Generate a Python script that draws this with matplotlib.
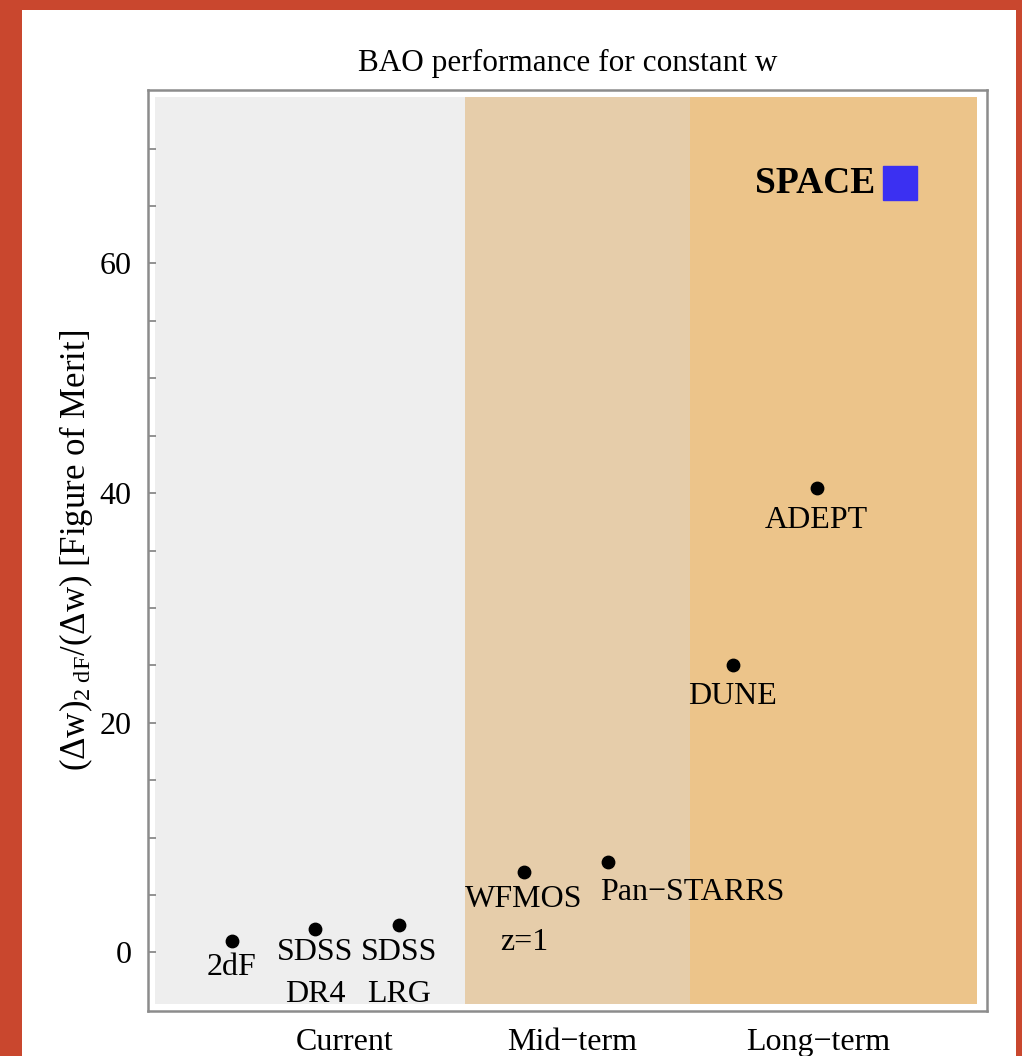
import matplotlib.pyplot as plt
from matplotlib.patches import Rectangle
from matplotlib.ticker import FixedLocator

plt.rcParams['font.family'] = ['Liberation Serif', 'DejaVu Serif']
plt.rcParams['mathtext.fontset'] = 'custom'
plt.rcParams['mathtext.rm'] = 'Liberation Serif'
plt.rcParams['mathtext.it'] = 'Liberation Serif:italic'

# surveys: position along the x axis and figure of merit
surveys = ['2dF', 'SDSS\nDR4', 'SDSS\nLRG', 'WFMOS\nz=1', 'Pan\u2212STARRS', 'DUNE', 'ADEPT']
survey_x = [1, 2, 3, 4.5, 5.5, 7, 8]
survey_fom = [1.0, 2.0, 2.4, 7.0, 7.9, 25.0, 40.4]

space_x = 9
space_fom = 67.0

# eras as shaded bands
eras = ['Current', 'Mid\u2212term', 'Long\u2212term']
era_edges = [0.08, 3.79, 6.49, 9.92]
era_colors = ['#eeeeee', '#e6cdaa', '#ecc48a']
era_label_x = [2.35, 5.08, 8.02]

fig = plt.figure(figsize=(10.22, 10.56), dpi=100, facecolor='#c9472e')
# white page inside the red border
fig.patches.append(Rectangle((22 / 1022, 0), 994 / 1022, 1046 / 1056,
                             transform=fig.transFigure, facecolor='white',
                             edgecolor='none', zorder=-10))

ax = fig.add_axes([148 / 1022, 45 / 1056, 839 / 1022, 921 / 1056])
ax.set_xlim(0, 10.04)
ax.set_ylim(-5.1, 75.1)
ax.set_facecolor('white')

for i in range(3):
    ax.add_patch(Rectangle((era_edges[i], -4.5), era_edges[i + 1] - era_edges[i], 79.0,
                           facecolor=era_colors[i], edgecolor='none', zorder=0))

ax.scatter(survey_x, survey_fom, s=80, color='black', zorder=3)
ax.plot([space_x], [space_fom], marker='s', markersize=25, color='#3b30f2',
        linestyle='none', zorder=3)

# label offsets in pixels from each point (dx, dy), plus alignment
offsets = [(0, -27), (0, -44), (0, -49), (0, -49), (-8, -31), (0, -31), (0, -32)]
aligns = ['center', 'center', 'center', 'center', 'left', 'center', 'center']
for name, x, y, off, ha in zip(surveys, survey_x, survey_fom, offsets, aligns):
    ax.annotate(name, (x, y), xytext=off, textcoords='offset pixels',
                ha=ha, va='center', fontsize=23, linespacing=1.6, zorder=4)

ax.annotate('SPACE', (space_x, space_fom), xytext=(-25, 0), textcoords='offset pixels',
            ha='right', va='center', fontsize=27, fontweight='bold', zorder=4)

ax.set_title('BAO performance for constant w', fontsize=22.5, pad=14)
ax.set_ylabel(r'$\mathrm{(\Delta w)_{2\ dF}/(\Delta w)}$ [Figure of Merit]',
              fontsize=25, labelpad=3)

ax.set_yticks([0, 20, 40, 60])
ax.yaxis.set_minor_locator(FixedLocator(range(5, 75, 5)))
ax.tick_params(axis='y', which='both', direction='in', length=6, width=1.2,
               color='#808080', labelsize=23, pad=12)
ax.set_xticks(era_label_x)
ax.set_xticklabels(eras)
ax.tick_params(axis='x', length=0, labelsize=23, pad=12)

for sp in ax.spines.values():
    sp.set_color('#8c8c8c')
    sp.set_linewidth(1.8)

fig.savefig('out.png', dpi=100, facecolor=fig.get_facecolor())
